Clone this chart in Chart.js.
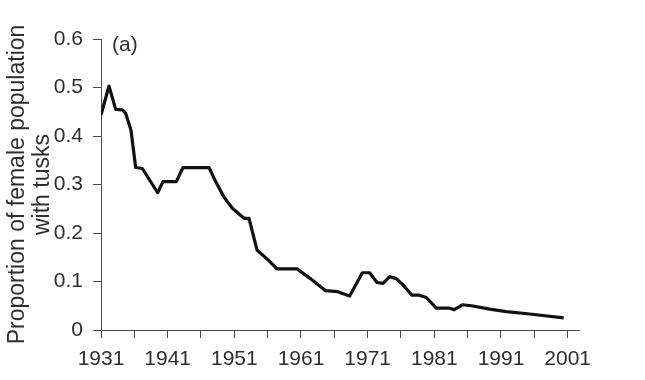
<!DOCTYPE html>
<html>
<head>
<meta charset="utf-8">
<script src="https://cdn.jsdelivr.net/npm/chart.js@4.4.1/dist/chart.umd.min.js"></script>
<style>
  html, body { margin: 0; padding: 0; background: #fff; }
  #wrap { width: 645px; height: 380px; position: relative; }
</style>
</head>
<body>
<div id="wrap"><canvas id="c" width="645" height="380"></canvas></div>
<script>
const years = [1931, 1932.2, 1933.2, 1934.2, 1934.7, 1935.5, 1936.2, 1937.2, 1939.5, 1940.3,
  1942.3, 1943.3, 1947.2, 1948.2, 1949.4, 1950.7, 1952.5, 1953.2, 1954.4, 1956.1,
  1957.4, 1960.4, 1962.3, 1964.7, 1966.5, 1968.3, 1970.2, 1971.3, 1972.4, 1973.3,
  1974.3, 1975.3, 1976.3, 1977.6, 1978.6, 1979.8, 1981.3, 1983.3, 1984.0, 1985.2,
  1986.6, 1989.3, 1991.8, 1995.3, 2000.4];
const proportion = [0.443, 0.503, 0.455, 0.454, 0.447, 0.412, 0.335, 0.333, 0.283, 0.306,
  0.306, 0.335, 0.335, 0.306, 0.275, 0.251, 0.230, 0.230, 0.165, 0.144,
  0.126, 0.126, 0.107, 0.081, 0.079, 0.070, 0.118, 0.118, 0.098, 0.096,
  0.110, 0.106, 0.093, 0.072, 0.072, 0.067, 0.045, 0.045, 0.042, 0.052,
  0.050, 0.043, 0.038, 0.033, 0.025];
const xTickValues = [1931, 1936, 1941, 1946, 1951, 1956, 1961, 1966, 1971, 1976, 1981, 1986, 1991, 1996, 2001];
const xLabelValues = [1931, 1941, 1951, 1961, 1971, 1981, 1991, 2001];
const yTitle = ['Proportion of female population', 'with tusks'];
const panelLabel = '(a)';

const FONT = "'Liberation Sans', Arial, Helvetica, sans-serif";
const axisColor = '#4a4a4a';
const textColor = '#2e2e2e';

const panelPlugin = {
  id: 'panelLabel',
  afterDraw(chart) {
    const ctx = chart.ctx;
    ctx.save();
    ctx.font = '21px ' + FONT;
    ctx.fillStyle = textColor;
    ctx.textBaseline = 'middle';
    ctx.textAlign = 'left';
    ctx.fillText(panelLabel, 112, 45);
    ctx.restore();
  }
};
const bgPlugin = {
  id: 'bg',
  beforeDraw(chart) {
    const ctx = chart.ctx;
    ctx.save();
    ctx.fillStyle = '#fff';
    ctx.fillRect(0, 0, chart.width, chart.height);
    ctx.restore();
  }
};

new Chart(document.getElementById('c'), {
  type: 'line',
  data: {
    datasets: [{
      data: years.map((y, i) => ({ x: y, y: proportion[i] })),
      borderColor: '#111',
      borderWidth: 3.2,
      pointRadius: 0,
      tension: 0,
      fill: false,
      borderJoinStyle: 'round'
    }]
  },
  options: {
    responsive: false,
    animation: false,
    layout: { padding: { left: 0, top: 39, right: 66, bottom: 0 } },
    plugins: { legend: { display: false }, tooltip: { enabled: false } },
    scales: {
      x: {
        type: 'linear',
        min: 1931,
        max: 2002.7,
        afterBuildTicks: s => { s.ticks = xTickValues.map(v => ({ value: v })); },
        afterFit: s => { s.height = 50; },
        ticks: {
          autoSkip: false,
          maxRotation: 0,
          padding: 9,
          color: textColor,
          font: { family: FONT, size: 21 },
          callback: v => xLabelValues.includes(v) ? String(v) : ''
        },
        grid: { drawOnChartArea: false, drawTicks: true, tickLength: 8, color: axisColor, lineWidth: 1 },
        border: { display: true, color: axisColor, width: 1 }
      },
      y: {
        min: 0,
        max: 0.6,
        afterFit: s => { s.width = 101; },
        ticks: {
          stepSize: 0.1,
          padding: 10,
          color: textColor,
          font: { family: FONT, size: 21 },
          callback: v => Math.abs(v) < 1e-9 ? '0' : v.toFixed(1)
        },
        grid: { drawOnChartArea: false, drawTicks: true, tickLength: 8, color: axisColor, lineWidth: 1 },
        border: { display: true, color: axisColor, width: 1 },
        title: {
          display: true,
          text: yTitle,
          color: textColor,
          font: { family: FONT, size: 23, lineHeight: 1.09 },
          padding: { top: 5, bottom: 0 }
        }
      }
    }
  },
  plugins: [bgPlugin, panelPlugin]
});
</script>
</body>
</html>
